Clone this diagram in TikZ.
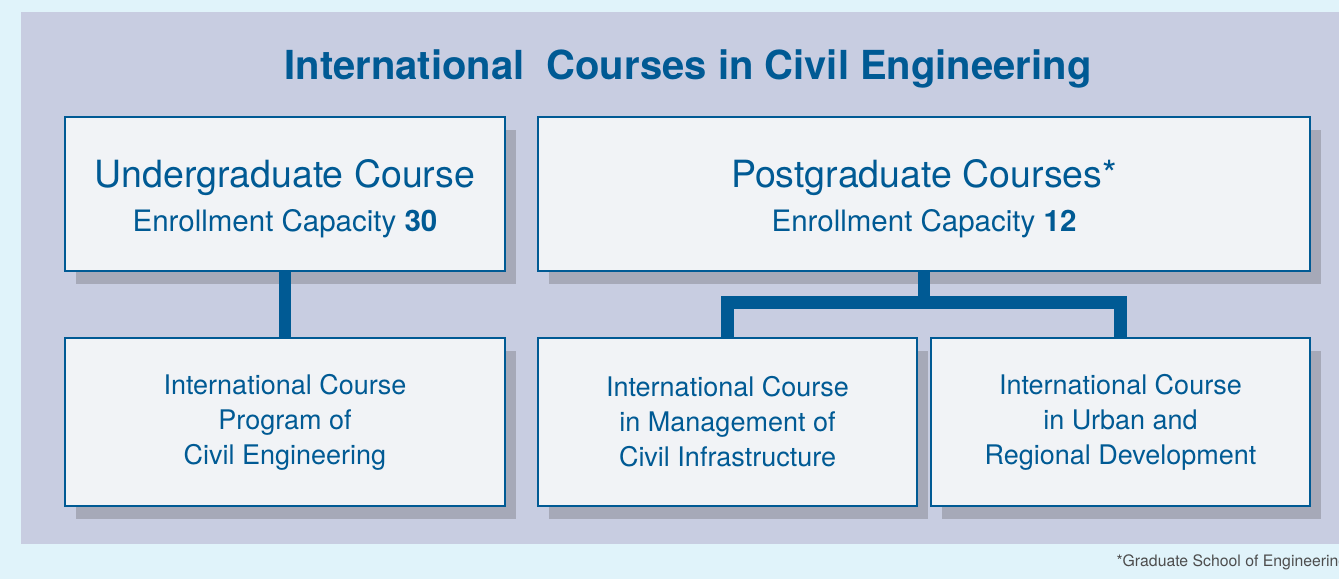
\documentclass[tikz,border=0pt]{standalone}
\usepackage{fontspec}
\setmainfont{TeX Gyre Heros}
\usetikzlibrary{positioning,shadows}
\definecolor{bgcyan}{HTML}{E0F3FA}
\definecolor{panel}{HTML}{C8CDE1}
\definecolor{navy}{HTML}{005A94}
\definecolor{boxfill}{HTML}{F1F3F6}
\definecolor{shade}{HTML}{A6A9B8}
\definecolor{note}{HTML}{4D4D4D}
\begin{document}
\begin{tikzpicture}[x = 1pt, y = 1pt,
    course/.style = {draw = navy, fill = boxfill, text = navy, align = center,
      inner sep = 0pt, outer sep = 0pt,
      drop shadow = {shadow xshift = 11pt, shadow yshift = -13pt, fill = shade, opacity = 1}},
    level/.style = {course, line width = 2.2pt, minimum height = 154pt,
      font = \fontsize{29.5}{44}\selectfont},
    program/.style = {course, line width = 1.1pt, minimum height = 168pt,
      font = \fontsize{27}{35}\selectfont},
    link/.style = {draw = navy, line width = 12.5pt}]
      \useasboundingbox[fill = bgcyan] (0,0) rectangle (1339,579);
      \fill[panel] (21,35) rectangle (1339,567);

      \node[text = navy, anchor = base, font = \bfseries\fontsize{40}{44}\selectfont]
        (title) at (688,499) {International\ \ Courses in Civil Engineering};

      \node[level, minimum width = 440pt] (under) at (285,385)
        {{\rule{0pt}{37pt}\fontsize{37.5}{44}\selectfont Undergraduate Course}\\Enrollment Capacity \textbf{30}};
      \node[level, minimum width = 772pt] (post) [right = 33pt of under]
        {{\rule{0pt}{37pt}\fontsize{37.5}{44}\selectfont Postgraduate Courses*}\\Enrollment Capacity \textbf{12}};

      \node[program, minimum width = 440pt] (icce) [below = 67pt of under]
        {International Course\\Program of\\Civil Engineering};
      \node[program, minimum width = 379pt] (icmci) [below right = 67pt and 0pt of post.south west]
        {International Course\\in Management of\\Civil Infrastructure};
      \node[program, minimum width = 379pt] (icurd) [right = 14pt of icmci]
        {International Course\\in Urban and\\Regional Development};

      \path[link] (under) -- (icce);
      \path[link] (post.south) -- ++(0,-31.5) coordinate (fork);
      \path[link] (icmci.north) |- (fork) -| (icurd.north);

      \node[text = note, anchor = base west, font = \fontsize{15.8}{20}\selectfont]
        (footnote) at (1113,13) {*Graduate School of Engineering};
    \end{tikzpicture}
\end{document}
